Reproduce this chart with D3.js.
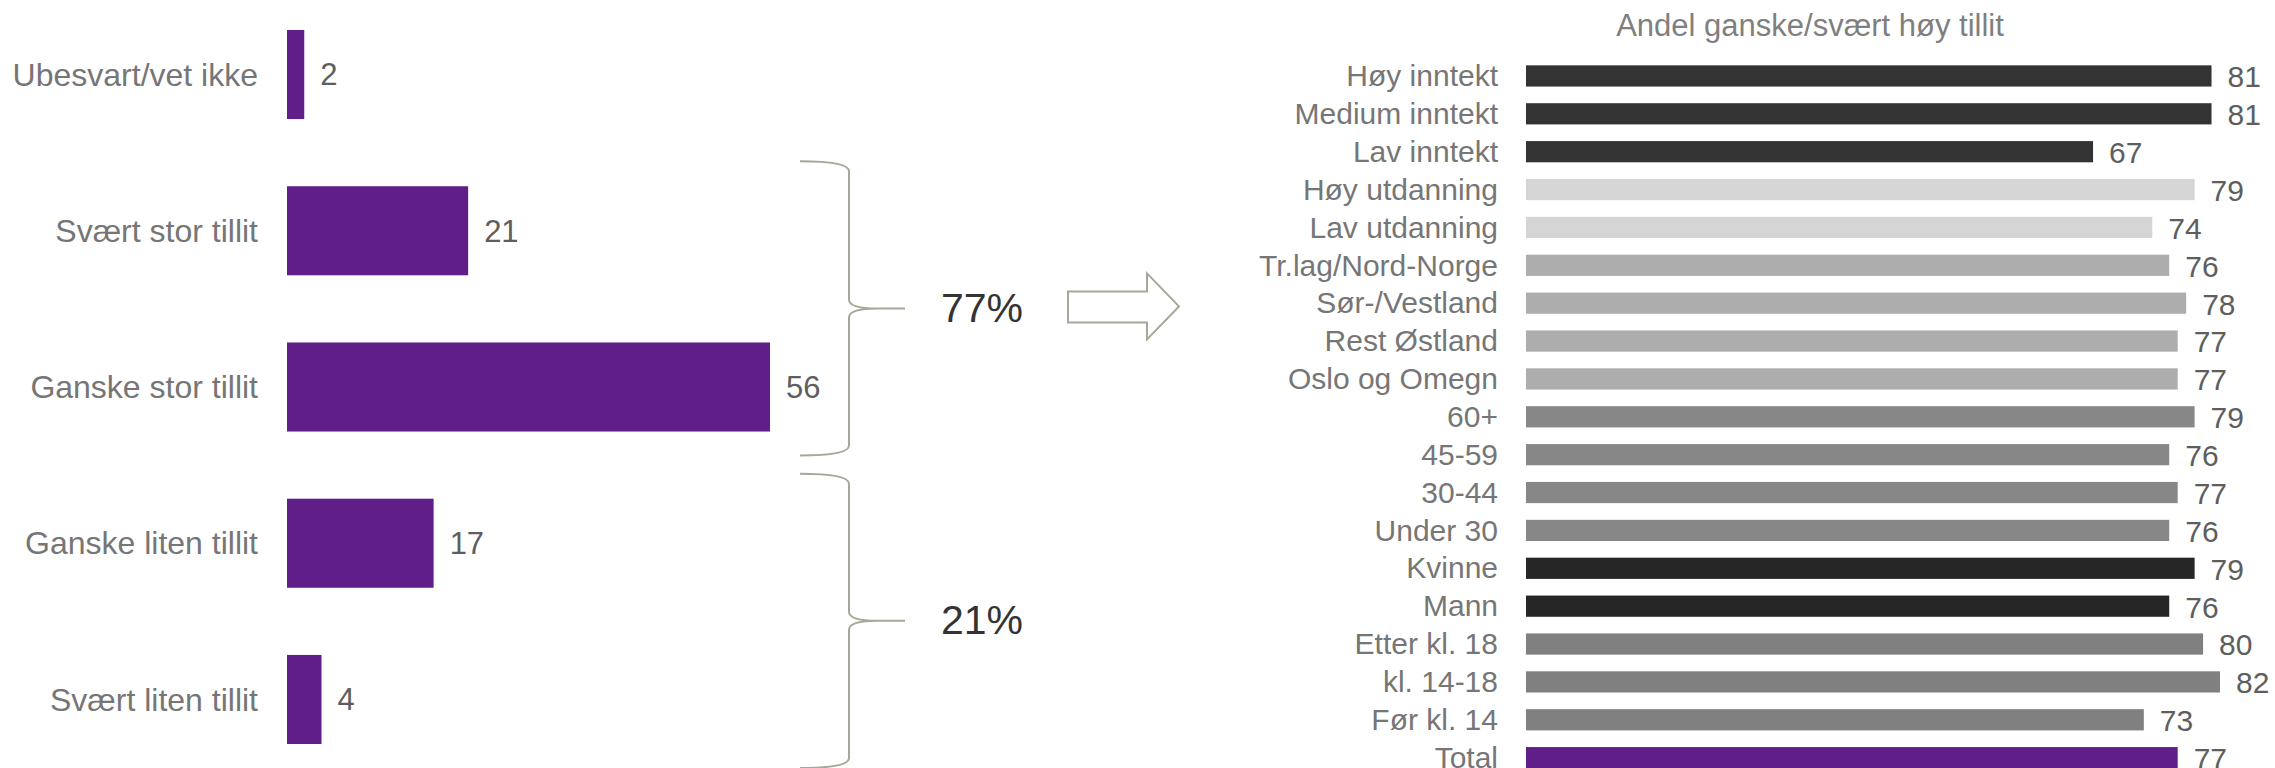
<!DOCTYPE html>
<html>
<head>
<meta charset="utf-8">
<script src="https://cdn.jsdelivr.net/npm/d3@7"></script>
<style>
  body { margin: 0; background: #fff; }
  text { font-family: "Liberation Sans", Arial, sans-serif; }
</style>
</head>
<body>
<script>
// venstre: tillit, hele utvalget
const tillitKategorier = ["Ubesvart/vet ikke", "Svært stor tillit", "Ganske stor tillit", "Ganske liten tillit", "Svært liten tillit"];
const tillitVerdier = [2, 21, 56, 17, 4];

// grupper som samles med klamme
const grupper = [
    { fra: "Svært stor tillit", til: "Ganske stor tillit" },
    { fra: "Ganske liten tillit", til: "Svært liten tillit" }
];

// høyre: andel ganske/svært høy tillit
const undergrupper = ["Høy inntekt", "Medium inntekt", "Lav inntekt", "Høy utdanning", "Lav utdanning",
    "Tr.lag/Nord-Norge", "Sør-/Vestland", "Rest Østland", "Oslo og Omegn",
    "60+", "45-59", "30-44", "Under 30", "Kvinne", "Mann",
    "Etter kl. 18", "kl. 14-18", "Før kl. 14", "Total"];
const andelHoy = [81, 81, 67, 79, 74, 76, 78, 77, 77, 79, 76, 77, 76, 79, 76, 80, 82, 73, 77];
const fargeGruppe = ["inntekt", "inntekt", "inntekt", "utd", "utd", "region", "region", "region", "region",
    "alder", "alder", "alder", "alder", "kjonn", "kjonn", "tid", "tid", "tid", "total"];

const tittel = "Andel ganske/svært høy tillit";

const width = 2275;
const height = 768;
const lilla = "#601f88";
const klammeFarge = "#a7a798";

const svg = d3.select("body").append("svg")
    .attr("width", width)
    .attr("height", height);

// ---------- venstre diagram ----------
const xL = d3.scaleLinear().domain([0, 56]).range([287, 770]);
const yL = d3.scaleBand()
    .domain(tillitKategorier)
    .range([-3.6, 777.6])
    .paddingInner(0.43)
    .paddingOuter(0.215);

const venstre = svg.append("g");

venstre.selectAll("rect")
    .data(tillitKategorier)
    .enter().append("rect")
    .attr("x", xL(0))
    .attr("y", d => yL(d))
    .attr("width", (d, i) => xL(tillitVerdier[i]) - xL(0))
    .attr("height", yL.bandwidth())
    .attr("fill", lilla);

venstre.selectAll(".kat")
    .data(tillitKategorier)
    .enter().append("text")
    .attr("class", "kat")
    .attr("x", xL(0) - 29)
    .attr("y", d => yL(d) + yL.bandwidth() / 2)
    .attr("dy", "0.35em")
    .attr("text-anchor", "end")
    .style("font-size", "32px")
    .style("fill", "#767676")
    .text(d => d);

venstre.selectAll(".verdi")
    .data(tillitKategorier)
    .enter().append("text")
    .attr("class", "verdi")
    .attr("x", (d, i) => xL(tillitVerdier[i]) + 16)
    .attr("y", d => yL(d) + yL.bandwidth() / 2)
    .attr("dy", "0.35em")
    .style("font-size", "31px")
    .style("fill", "#5e5e5e")
    .text((d, i) => tillitVerdier[i]);

// klammer med summer
const kx0 = 800, kx1 = 849, kTupp = 905;
grupper.forEach(g => {
    const topp = yL(g.fra) - 25;
    const bunn = yL(g.til) + yL.bandwidth() + 24;
    const midt = (topp + bunn) / 2;
    const p = d3.path();
    p.moveTo(kx0, topp);
    p.quadraticCurveTo(kx1, topp, kx1, topp + 10);
    p.lineTo(kx1, midt - 9);
    p.quadraticCurveTo(kx1, midt, kx1 + 28, midt);
    p.lineTo(kTupp, midt);
    p.moveTo(kx1 + 28, midt);
    p.quadraticCurveTo(kx1, midt, kx1, midt + 9);
    p.lineTo(kx1, bunn - 10);
    p.quadraticCurveTo(kx1, bunn, kx0, bunn);
    svg.append("path")
        .attr("d", p.toString())
        .attr("fill", "none")
        .attr("stroke", klammeFarge)
        .attr("stroke-width", 2);

    const i0 = tillitKategorier.indexOf(g.fra);
    const i1 = tillitKategorier.indexOf(g.til);
    const sum = d3.sum(tillitVerdier.slice(i0, i1 + 1));
    svg.append("text")
        .attr("x", 941)
        .attr("y", midt)
        .attr("dy", "0.32em")
        .style("font-size", "41px")
        .style("fill", "#333333")
        .text(sum + "%");

    g.midt = midt;
});

// pil
const pilY = grupper[0].midt;
const pil = [[1068, pilY - 17], [1147, pilY - 17], [1147, pilY - 35], [1179, pilY - 2],
    [1147, pilY + 31], [1147, pilY + 14], [1068, pilY + 14]];
svg.append("path")
    .attr("d", d3.line()(pil) + "Z")
    .attr("fill", "#fff")
    .attr("stroke", klammeFarge)
    .attr("stroke-width", 2);

// ---------- høyre diagram ----------
const farger = {
    inntekt: "#333333",
    utd: "#d5d5d5",
    region: "#adadad",
    alder: "#878787",
    kjonn: "#262626",
    tid: "#808080",
    total: lilla
};

const xR = d3.scaleLinear().domain([0, 82]).range([1526, 2220]);
const yR = d3.scaleBand()
    .domain(undergrupper)
    .range([57, 776.6])
    .paddingInner(0.44)
    .paddingOuter(0.22);

const hoyre = svg.append("g");

hoyre.append("text")
    .attr("x", xR(0) + 284)
    .attr("y", 36)
    .attr("text-anchor", "middle")
    .style("font-size", "31px")
    .style("fill", "#7f7f7f")
    .text(tittel);

hoyre.selectAll("rect")
    .data(undergrupper)
    .enter().append("rect")
    .attr("x", xR(0))
    .attr("y", d => yR(d))
    .attr("width", (d, i) => xR(andelHoy[i]) - xR(0))
    .attr("height", yR.bandwidth())
    .attr("fill", (d, i) => farger[fargeGruppe[i]]);

hoyre.selectAll(".kat")
    .data(undergrupper)
    .enter().append("text")
    .attr("class", "kat")
    .attr("x", xR(0) - 28)
    .attr("y", d => yR(d) + yR.bandwidth() / 2)
    .attr("dy", "0.34em")
    .attr("text-anchor", "end")
    .style("font-size", "30px")
    .style("fill", "#767676")
    .text(d => d);

hoyre.selectAll(".verdi")
    .data(undergrupper)
    .enter().append("text")
    .attr("class", "verdi")
    .attr("x", (d, i) => xR(andelHoy[i]) + 16)
    .attr("y", d => yR(d) + yR.bandwidth() / 2)
    .attr("dy", "0.38em")
    .style("font-size", "30px")
    .style("fill", "#5e5e5e")
    .text((d, i) => andelHoy[i]);
</script>
</body>
</html>
